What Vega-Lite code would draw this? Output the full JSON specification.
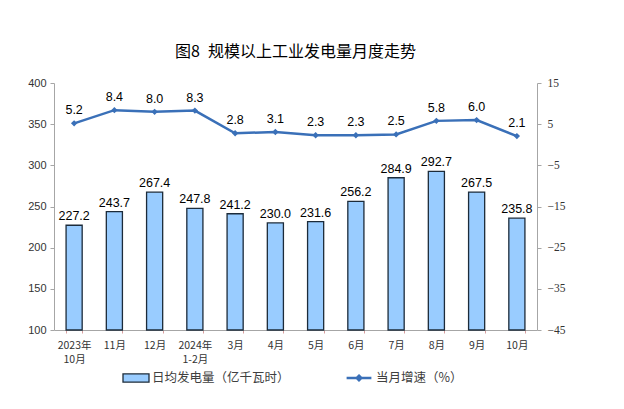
{
  "$schema": "https://vega.github.io/schema/vega-lite/v6.json",
  "width": 483,
  "height": 247,
  "autosize": {"type": "none"},
  "padding": {"left": 54, "top": 83, "right": 87, "bottom": 79},
  "background": "white",
  "title": {
    "text": "图8\u2002规模以上工业发电量月度走势",
    "font": "Noto Sans CJK SC",
    "fontSize": 16,
    "fontWeight": "normal",
    "color": "#000000",
    "offset": 17,
    "dx": 0
  },
  "config": {
    "view": {"stroke": null},
    "font": "Liberation Sans"
  },
  "data": {
    "values": [
      {"m": "2023年|10月", "gen": 227.2, "g": 5.2},
      {"m": "11月", "gen": 243.7, "g": 8.4},
      {"m": "12月", "gen": 267.4, "g": 8.0},
      {"m": "2024年|1-2月", "gen": 247.8, "g": 8.3},
      {"m": "3月", "gen": 241.2, "g": 2.8},
      {"m": "4月", "gen": 230.0, "g": 3.1},
      {"m": "5月", "gen": 231.6, "g": 2.3},
      {"m": "6月", "gen": 256.2, "g": 2.3},
      {"m": "7月", "gen": 284.9, "g": 2.5},
      {"m": "8月", "gen": 292.7, "g": 5.8},
      {"m": "9月", "gen": 267.5, "g": 6.0},
      {"m": "10月", "gen": 235.8, "g": 2.1}
    ]
  },
  "encoding": {
    "x": {
      "field": "m",
      "type": "nominal",
      "sort": null,
      "scale": {"paddingInner": 0.6, "paddingOuter": 0.3},
      "axis": {
        "title": null,
        "labelAngle": 0,
        "labelExpr": "split(datum.label, '|')",
        "labelFont": "Noto Sans CJK SC",
        "labelFontSize": 10.5,
        "labelColor": "#333333",
        "labelPadding": 7,
        "labelLineHeight": 14,
        "domainColor": "#A6A6A6",
        "tickColor": "#D9A0A0",
        "tickSize": 3,
        "tickBand": "extent",
        "grid": false
      }
    }
  },
  "layer": [
    {
      "layer": [
        {
          "mark": {"type": "bar", "stroke": "#1C2B3A", "strokeWidth": 1.3},
          "encoding": {
            "y": {
              "field": "gen",
              "type": "quantitative",
              "scale": {"domain": [100, 400], "zero": false, "nice": false},
              "axis": {
                "title": null,
                "values": [100, 150, 200, 250, 300, 350, 400],
                "grid": false,
                "labelFont": "Liberation Sans",
                "labelFontSize": 11,
                "labelColor": "#333333",
                "domainColor": "#A6A6A6",
                "tickColor": "#A6A6A6",
                "tickSize": 4,
                "labelPadding": 4
              }
            },
            "y2": {"datum": 100},
            "fill": {
              "datum": "日均发电量（亿千瓦时）",
              "type": "nominal",
              "scale": {"range": ["#99CCFF"]},
              "legend": {
                "title": null,
                "orient": "none",
                "legendX": 73,
                "legendY": 286,
                "symbolType": "M-1.6,-0.5L1.6,-0.5L1.6,0.5L-1.6,0.5Z",
                "symbolSize": 264,
                "symbolStrokeColor": "#1C2B3A",
                "symbolStrokeWidth": 1.3,
                "labelFont": "Noto Sans CJK SC",
                "labelFontSize": 12.5,
                "labelColor": "#404040",
                "labelOffset": 7
              }
            }
          }
        },
        {
          "mark": {"type": "text", "baseline": "bottom", "dy": -2, "fontSize": 12.5, "color": "#000000"},
          "encoding": {
            "y": {"field": "gen", "type": "quantitative"},
            "text": {"field": "gen", "type": "quantitative", "format": ".1f"}
          }
        }
      ]
    },
    {
      "layer": [
        {
          "mark": {"type": "line", "strokeWidth": 2.5, "point": {"shape": "diamond", "filled": true, "size": 40}},
          "encoding": {
            "y": {
              "field": "g",
              "type": "quantitative",
              "scale": {"domain": [-45, 15], "nice": false},
              "axis": {
                "orient": "right",
                "title": null,
                "values": [-45, -35, -25, -15, -5, 5, 15],
                "grid": false,
                "labelFont": "Liberation Serif",
                "labelFontSize": 11.5,
                "labelColor": "#333333",
                "domainColor": "#A6A6A6",
                "tickColor": "#A6A6A6",
                "tickSize": 4,
                "labelPadding": 6
              }
            },
            "color": {
              "datum": "当月增速（%）",
              "type": "nominal",
              "scale": {"range": ["#3A70B8"]},
              "legend": {
                "title": null,
                "orient": "none",
                "legendX": 296,
                "legendY": 286,
                "symbolType": "M-1.6,0L1.6,0M0,-0.3L0.3,0L0,0.3L-0.3,0Z",
                "symbolSize": 240,
                "symbolStrokeWidth": 2.5,
                "labelFont": "Noto Sans CJK SC",
                "labelFontSize": 12.5,
                "labelColor": "#404040",
                "labelOffset": 8
              }
            }
          }
        },
        {
          "mark": {"type": "text", "baseline": "bottom", "dy": -6, "fontSize": 12.5, "color": "#000000"},
          "encoding": {
            "y": {"field": "g", "type": "quantitative"},
            "text": {"field": "g", "type": "quantitative", "format": ".1f"}
          }
        }
      ]
    }
  ],
  "resolve": {"scale": {"y": "independent"}}
}
